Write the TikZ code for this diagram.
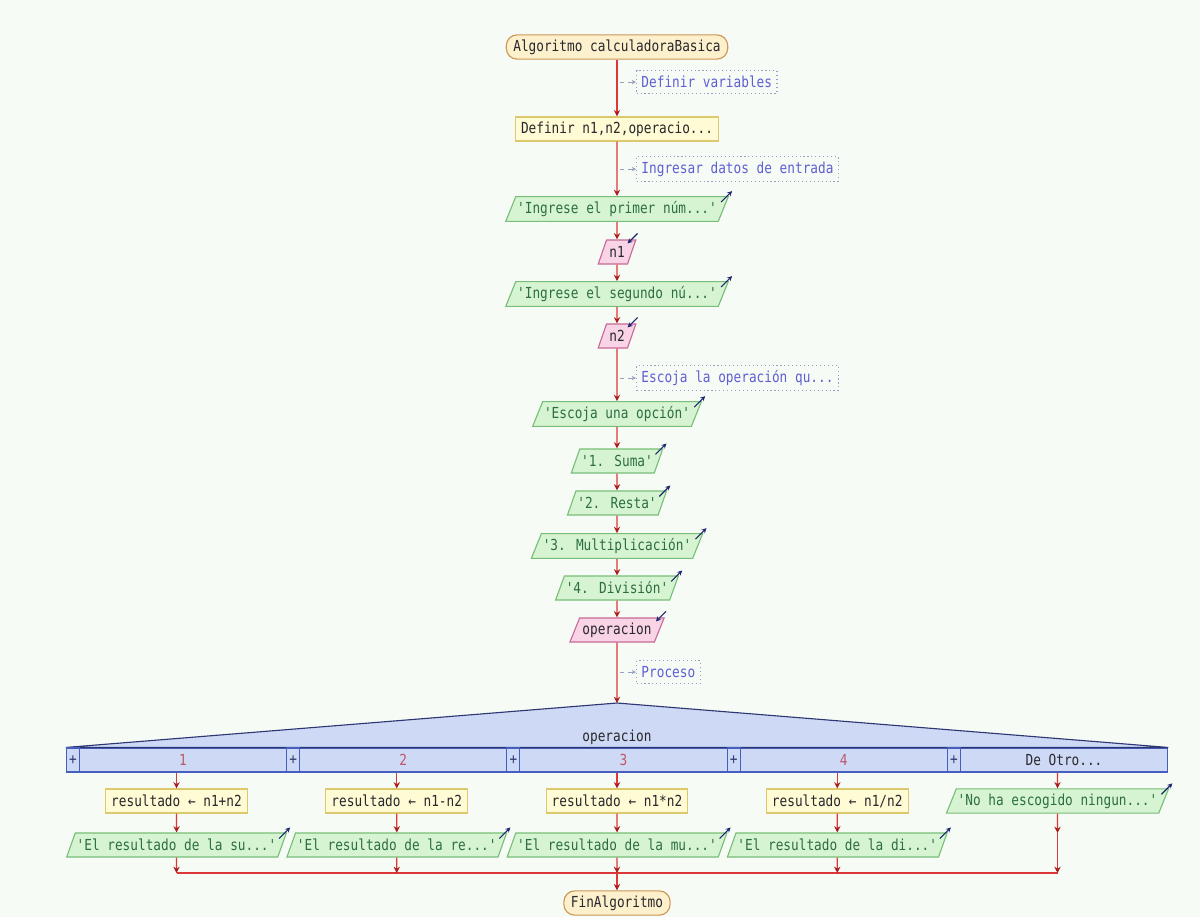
\documentclass[tikz,border=0pt]{standalone}
\usepackage{fontspec}
\usepackage{tikz}
\usetikzlibrary{shapes.geometric,arrows.meta}
\newfontfamily\psfont[FakeStretch=0.84,Ligatures=ResetAll]{DejaVu Sans Mono}
\definecolor{bgcol}{RGB}{247,251,246}
\definecolor{txtcol}{RGB}{40,40,45}
\definecolor{flowcol}{RGB}{222,55,55}
\definecolor{tipcol}{RGB}{170,30,30}
\definecolor{termfill}{RGB}{253,241,205}
\definecolor{termdraw}{RGB}{205,150,85}
\definecolor{procfill}{RGB}{255,251,212}
\definecolor{procdraw}{RGB}{222,200,110}
\definecolor{outfill}{RGB}{214,244,210}
\definecolor{outdraw}{RGB}{120,190,120}
\definecolor{outtext}{RGB}{45,110,65}
\definecolor{infill}{RGB}{248,212,230}
\definecolor{indraw}{RGB}{200,105,150}
\definecolor{cmttext}{RGB}{95,95,210}
\definecolor{cmtdraw}{RGB}{150,160,195}
\definecolor{iocol}{RGB}{30,40,110}
\definecolor{swfill}{RGB}{206,218,245}
\definecolor{swdraw}{RGB}{70,95,190}
\definecolor{swdark}{RGB}{45,55,115}
\definecolor{casetext}{RGB}{190,85,105}

\begin{document}
\begin{tikzpicture}[x=0.025cm,y=-0.025cm,
  every node/.style={font=\psfont\fontsize{10.8}{12}\selectfont,text=txtcol},
  flow/.style={draw=flowcol,line width=0.8pt,-{Stealth[length=4.5pt,width=4.5pt,color=tipcol]}},
  flowline/.style={draw=flowcol,line width=0.8pt},
  term/.style={draw=termdraw,fill=termfill,rounded corners=0.27cm,minimum height=0.55cm,inner xsep=5pt,line width=0.8pt},
  proc/.style={rectangle,draw=procdraw,fill=procfill,minimum height=0.6cm,inner xsep=4pt,line width=0.8pt},
  outp/.style={trapezium,trapezium left angle=68,trapezium right angle=112,trapezium stretches body=true,draw=outdraw,fill=outfill,text=outtext,minimum height=0.6cm,inner xsep=1pt,line width=0.8pt},
  inp/.style={outp,draw=indraw,fill=infill,text=txtcol,inner xsep=2pt},
  cmt/.style={draw=cmtdraw,dotted,line width=0.8pt,text=cmttext,anchor=west,inner xsep=3.5pt,minimum height=0.56cm},
  cmtlink/.style={draw=cmtdraw,dashed,line width=0.7pt,-{Stealth[length=3pt,width=3pt]}},
  ioarr/.style={draw=iocol,line width=0.8pt,-{Stealth[length=3.5pt,width=3.5pt]}},
  cell/.style={draw=swdraw,fill=swfill,minimum width=5.50625cm,minimum height=0.6cm,inner sep=0pt,line width=0.8pt},
  plusbox/.style={draw=swdraw,fill=swfill,minimum width=0.325cm,minimum height=0.6cm,inner sep=0pt,anchor=west,line width=0.8pt,text=swdark},
  caselbl/.style={text=casetext}]
\useasboundingbox (0,0) rectangle (1200,917);
\fill[bgcol] (0,0) rectangle (1200,917);

\node[term] (ini) at (617,47) {Algoritmo calculadoraBasica};
\node[proc] (def) at (617,129) {Definir n1,n2,operacio...};
\node[outp] (o1) at (617,209) {'Ingrese el primer núm...'};
\node[inp] (i1) at (617,252) {n1};
\node[outp] (o2) at (617,294) {'Ingrese el segundo nú...'};
\node[inp] (i2) at (617,336) {n2};
\node[outp] (o3) at (617,414) {'Escoja una opción'};
\node[outp] (s1) at (617,461) {'1. Suma'};
\node[outp] (s2) at (617,503) {'2. Resta'};
\node[outp] (s3) at (617,546) {'3. Multiplicación'};
\node[outp] (s4) at (617,588) {'4. División'};
\node[inp] (i3) at (617,630) {operacion};
\coordinate (sw) at (617,703);

\draw[flow] (ini) -- (def);
\draw[flow] (def) -- (o1);
\draw[flow] (o1) -- (i1);
\draw[flow] (i1) -- (o2);
\draw[flow] (o2) -- (i2);
\draw[flow] (i2) -- (o3);
\draw[flow] (o3) -- (s1);
\draw[flow] (s1) -- (s2);
\draw[flow] (s2) -- (s3);
\draw[flow] (s3) -- (s4);
\draw[flow] (s4) -- (i3);
\draw[flow] (i3) -- (sw);

\node[cmt] (c1) at (636,82) {Definir variables\hspace{7pt}};
\node[cmt] (c2) at (636,169) {Ingresar datos de entrada};
\node[cmt] (c3) at (636,378) {Escoja la operación qu...};
\node[cmt] (c4) at (636,672) {Proceso\hspace{8pt}};
\coordinate (l1) at (620,82);
\coordinate (l2) at (620,169);
\coordinate (l3) at (620,378);
\coordinate (l4) at (620,672);
\draw[cmtlink] (l1) -- (c1);
\draw[cmtlink] (l2) -- (c2);
\draw[cmtlink] (l3) -- (c3);
\draw[cmtlink] (l4) -- (c4);

\draw[ioarr] (o1.top right corner) ++(-8,6) -- ++(11,-11);
\draw[ioarr] (o2.top right corner) ++(-8,6) -- ++(11,-11);
\draw[ioarr] (o3.top right corner) ++(-8,6) -- ++(11,-11);
\draw[ioarr] (s1.top right corner) ++(-8,6) -- ++(11,-11);
\draw[ioarr] (s2.top right corner) ++(-8,6) -- ++(11,-11);
\draw[ioarr] (s3.top right corner) ++(-8,6) -- ++(11,-11);
\draw[ioarr] (s4.top right corner) ++(-8,6) -- ++(11,-11);
\draw[ioarr] (i1.top right corner) ++(1,-6) -- ++(-10,10);
\draw[ioarr] (i2.top right corner) ++(1,-6) -- ++(-10,10);
\draw[ioarr] (i3.top right corner) ++(1,-6) -- ++(-10,10);

\node[cell] (k1) at (176.5,760) {};
\node[cell] (k2) at (396.75,760) {};
\node[cell] (k3) at (617,760) {};
\node[cell] (k4) at (837.25,760) {};
\node[cell] (k5) at (1057.5,760) {};
\draw[draw=swdark,fill=swfill,line width=0.8pt] (sw) -- (k1.north west) -- (k5.north east) -- cycle;
\node at (617,737) {operacion};
\node[plusbox] at (k1.west) {+};
\node[plusbox] at (k2.west) {+};
\node[plusbox] at (k3.west) {+};
\node[plusbox] at (k4.west) {+};
\node[plusbox] at (k5.west) {+};
\node[caselbl] at (183,760) {1};
\node[caselbl] at (403.25,760) {2};
\node[caselbl] at (623.5,760) {3};
\node[caselbl] at (843.75,760) {4};
\node at (1064,760) {De Otro...};

\node[proc] (r1) at (176.5,801) {resultado ← n1+n2};
\node[proc] (r2) at (396.75,801) {resultado ← n1-n2};
\node[proc] (r3) at (617,801) {resultado ← n1*n2};
\node[proc] (r4) at (837.25,801) {resultado ← n1/n2};
\node[outp] (w5) at (1057.5,801) {'No ha escogido ningun...'};
\node[outp] (e1) at (176.5,845) {'El resultado de la su...'};
\node[outp] (e2) at (396.75,845) {'El resultado de la re...'};
\node[outp] (e3) at (617,845) {'El resultado de la mu...'};
\node[outp] (e4) at (837.25,845) {'El resultado de la di...'};
\draw[ioarr] (w5.top right corner) ++(-8,6) -- ++(11,-11);
\draw[ioarr] (e1.top right corner) ++(-8,6) -- ++(11,-11);
\draw[ioarr] (e2.top right corner) ++(-8,6) -- ++(11,-11);
\draw[ioarr] (e3.top right corner) ++(-8,6) -- ++(11,-11);
\draw[ioarr] (e4.top right corner) ++(-8,6) -- ++(11,-11);

\coordinate (q5) at (1057.5,833);
\coordinate (j1) at (176.5,873);
\coordinate (j2) at (396.75,873);
\coordinate (j3) at (617,873);
\coordinate (j4) at (837.25,873);
\coordinate (j5) at (1057.5,873);
\node[term] (fin) at (617,903) {FinAlgoritmo};

\draw[flow] (k1) -- (r1);
\draw[flow] (k2) -- (r2);
\draw[flow] (k3) -- (r3);
\draw[flow] (k4) -- (r4);
\draw[flow] (k5) -- (w5);
\draw[flow] (r1) -- (e1);
\draw[flow] (r2) -- (e2);
\draw[flow] (r3) -- (e3);
\draw[flow] (r4) -- (e4);
\draw[flow] (w5) -- (q5);
\draw[flowline] (j1) -- (j5);
\draw[flow] (e1) -- (j1);
\draw[flow] (e2) -- (j2);
\draw[flow] (e3) -- (j3);
\draw[flow] (e4) -- (j4);
\draw[flow] (q5) -- (j5);
\draw[flow] (j3) -- (fin);
\end{tikzpicture}
\end{document}
